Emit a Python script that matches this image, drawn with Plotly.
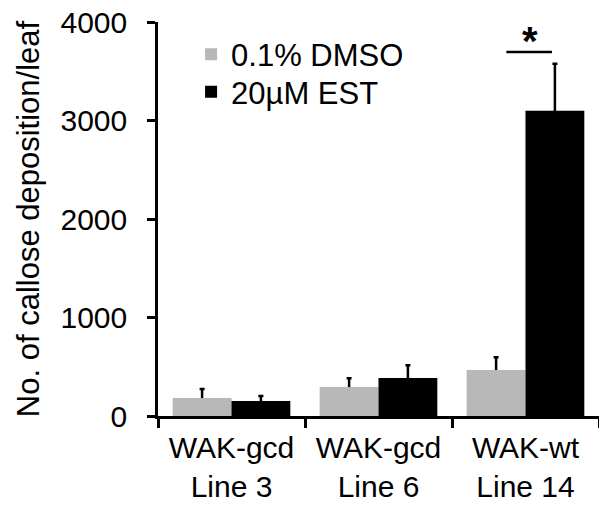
import plotly.graph_objects as go

categories = ["WAK-gcd<br>Line 3", "WAK-gcd<br>Line 6", "WAK-wt<br>Line 14"]
dmso_values = [182, 294, 466]
dmso_errors = [91, 90, 130]
est_values = [152, 385, 3100]
est_errors = [50, 130, 475]
y_ticks = [0, 1000, 2000, 3000, 4000]

FONT = "Liberation Sans, Arial, sans-serif"
GRAY = "#b8b8b8"


def err(vals):
    return dict(type="data", symmetric=False, array=vals,
                arrayminus=[40] * len(vals), color="black",
                thickness=2.5, width=2.5)


fig = go.Figure()
# error bars drawn first (under the bars) so only the upper part shows
fig.add_trace(go.Bar(x=categories, y=dmso_values, offsetgroup="dmso",
                     marker=dict(color="rgba(0,0,0,0)"), error_y=err(dmso_errors),
                     showlegend=False, hoverinfo="skip"))
fig.add_trace(go.Bar(x=categories, y=est_values, offsetgroup="est",
                     marker=dict(color="rgba(0,0,0,0)"), error_y=err(est_errors),
                     showlegend=False, hoverinfo="skip"))
fig.add_trace(go.Bar(name="0.1% DMSO", x=categories, y=dmso_values, offsetgroup="dmso",
                     marker=dict(color=GRAY, line=dict(width=0)), legend="legend"))
fig.add_trace(go.Bar(name="20µM EST", x=categories, y=est_values, offsetgroup="est",
                     marker=dict(color="black", line=dict(width=0)), legend="legend2"))

# significance marker
fig.add_shape(type="line", xref="x", yref="y", x0=1.87, x1=2.18, y0=3695, y1=3695,
              line=dict(color="black", width=2.5))
fig.add_annotation(x=2.03, y=3810, xref="x", yref="y", text="<b>*</b>", showarrow=False,
                   font=dict(family=FONT, size=40, color="black"))

leg = dict(x=0.075, xanchor="left", yanchor="middle",
           bgcolor="rgba(0,0,0,0)", font=dict(size=31), itemsizing="constant")

fig.update_layout(
    width=599, height=506,
    margin=dict(l=158, r=0, t=22, b=90),
    paper_bgcolor="white", plot_bgcolor="white",
    font=dict(family=FONT, size=30, color="black"),
    barmode="group", bargap=0.2, bargroupgap=0,
    showlegend=True,
    legend=dict(y=0.917, **leg),
    legend2=dict(y=0.822, **leg),
)
fig.update_xaxes(
    showline=True, linecolor="black", linewidth=2.5, automargin=False,
    ticks="outside", tickson="boundaries", ticklen=9, tickwidth=2.5, tickcolor="black",
    tickfont=dict(size=30), showgrid=False, ticklabelstandoff=3,
)
fig.update_yaxes(
    range=[0, 4000], tickvals=y_ticks, showline=True, linecolor="black", linewidth=2.5,
    ticks="outside", ticklen=8, tickwidth=2.5, tickcolor="black",
    showgrid=False, zeroline=False, tickfont=dict(size=30), ticklabelstandoff=14,
    title=dict(text="No. of callose deposition/leaf", font=dict(size=31), standoff=12),
)

fig.write_html("out.html", config={"displayModeBar": False},
               post_script="document.body.style.margin='0';document.body.style.padding='0';")
